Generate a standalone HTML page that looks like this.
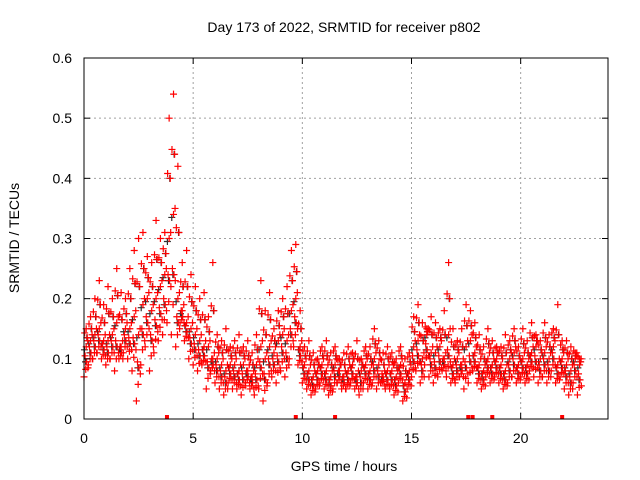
<!DOCTYPE html>
<html><head><meta charset="utf-8"><style>
body{margin:0;background:#fff}
svg{display:block}
text{font-family:"Liberation Sans",sans-serif;font-size:14px;fill:#000}
</style></head><body>
<svg id="chart" width="640" height="480">
<text x="344" y="32" text-anchor="middle">Day 173 of 2022, SRMTID for receiver p802</text>
<text transform="translate(19,238) rotate(-90)" text-anchor="middle">SRMTID / TECUs</text>
<text x="344" y="471" text-anchor="middle">GPS time / hours</text>
<g id="grid"></g><g id="marks"></g><g id="axes"></g>
</svg>
<script>
const yTicks=[0,0.1,0.2,0.3,0.4,0.5,0.6];
const yTickLabels=["0","0.1","0.2","0.3","0.4","0.5","0.6"];
const xTicks=[0,5,10,15,20];
const xTickLabels=["0","5","10","15","20"];
const lowVals=[.07,.09,.1,.11,.1, .09,.1,.08,.1,.11, .1,.08,.03,.09,.12, .08,.11,.13,.14,.16, .14,.12,.16,.13,.1, .09,.08,.09,.05,.08, .06,.05,.04,.06,.05, .05,.04,.06,.05,.04, .05,.03,.06,.07,.06, .08,.07,.1,.12,.09, .06,.05,.04,.05,.06, .05,.04,.05,.06,.05, .05,.06,.05,.04,.06, .05,.06,.05,.06,.05, .05,.04,.06,.03,.05, .07,.08,.06,.09,.07, .06,.07,.08,.07,.06, .06,.07,.05,.06,.08, .06,.05,.07,.06,.07, .06,.05,.06,.07,.06, .07,.06,.08,.07,.06, .07,.06,.08,.06,.07, .05,.04,.06,.04];
const midVals=[.12,.13,.14,.15,.13, .13,.14,.16,.12,.15, .15,.17,.14,.19,.2, .18,.2,.22,.24,.3, .34,.2,.18,.16,.15, .14,.13,.12,.12,.1, .1,.09,.08,.09,.09, .08,.09,.08,.07,.09, .12,.1,.12,.11,.13, .14,.13,.18,.2,.12, .09,.08,.07,.08,.09, .08,.07,.09,.08,.07, .08,.09,.07,.08,.09, .08,.1,.09,.07,.08, .08,.07,.09,.06,.08, .12,.13,.1,.14,.11, .11,.12,.1,.14,.09, .1,.09,.12,.13,.11, .09,.08,.1,.09,.1, .09,.08,.1,.11,.09, .1,.09,.11,.12,.1, .11,.1,.12,.09,.1, .09,.08,.1,.09];
const highVals=[.15,.17,.2,.23,.19, .22,.2,.25,.21,.2, .25,.28,.3,.31,.27, .26,.33,.3,.31,.5, .54,.42,.26,.28,.24, .22,.2,.21,.17,.26, .14,.13,.15,.12,.13, .14,.12,.13,.11,.14, .23,.18,.21,.15,.18, .2,.22,.28,.29,.18, .12,.13,.11,.1,.12, .13,.11,.12,.1,.11, .12,.11,.13,.1,.12, .12,.15,.13,.11,.12, .11,.1,.12,.1,.11, .17,.19,.16,.15,.17, .16,.15,.18,.26,.15, .13,.15,.19,.18,.16, .14,.12,.15,.13,.12, .12,.14,.13,.15,.12, .15,.13,.16,.14,.13, .16,.14,.15,.19,.13, .13,.12,.11,.1];
const zeroHours=[3.8,9.7,11.5,17.6,17.8,18.7,21.9];
const X0=84,X1=608,Y0=419,Y1=58;
const xs=h=>X0+h*(X1-X0)/24;
const ys=v=>Y0-v*(Y0-Y1)/0.6;
const NS="http://www.w3.org/2000/svg";
function mk(tag,attrs,parent){const e=document.createElementNS(NS,tag);for(const k in attrs)e.setAttribute(k,attrs[k]);parent.appendChild(e);return e;}
const grid=document.getElementById('grid'),axes=document.getElementById('axes'),marks=document.getElementById('marks');
yTicks.forEach((v,i)=>{
 if(v>0&&v<0.6){const l=mk('line',{x1:X0,x2:X1,y1:ys(v),y2:ys(v),stroke:'#a0a0a0','stroke-dasharray':'2,3'},grid);
 
 }
 mk('line',{x1:X0,x2:X0+6,y1:ys(v),y2:ys(v),stroke:'#000'},axes);
 mk('line',{x1:X1,x2:X1-6,y1:ys(v),y2:ys(v),stroke:'#000'},axes);
 const t=mk('text',{x:X0-12,y:ys(v)+5,'text-anchor':'end'},axes);t.textContent=yTickLabels[i];
 
 
});
xTicks.forEach((h,i)=>{
 if(h>0){const l=mk('line',{x1:xs(h),x2:xs(h),y1:Y0,y2:Y1,stroke:'#a0a0a0','stroke-dasharray':'2,3'},grid);
 
 }
 mk('line',{x1:xs(h),x2:xs(h),y1:Y0,y2:Y0-6,stroke:'#000'},axes);
 mk('line',{x1:xs(h),x2:xs(h),y1:Y1,y2:Y1+6,stroke:'#000'},axes);
 const t=mk('text',{x:xs(h),y:Y0+24,'text-anchor':'middle'},axes);t.textContent=xTickLabels[i];
 
 
});
const frame=mk('rect',{x:X0,y:Y1,width:X1-X0,height:Y0-Y1,fill:'none',stroke:'#000'},axes);


function plus(h,v,color,name){
 const x=xs(h),y=ys(v);
 const p=mk('path',{d:`M${x-3.5},${y}h7M${x},${y-3.5}v7`,stroke:color,'stroke-width':1.2,fill:'none'},marks);
 
 
}
lowVals.forEach((lo,i)=>{
 const h=i*0.2,mid=midVals[i],hi=highVals[i];
 plus(h+0.07,(lo+mid)/2,'#303030','black-point');
 plus(h+0.13,(mid+hi)/2,'#303030','black-point');
 plus(h+0.02,mid-0.005,'#303030','black-point');
});
lowVals.forEach((lo,i)=>{
 const h=i*0.2,mid=midVals[i],hi=highVals[i];
 plus(h,lo,'#ff0000','red-point');
 plus(h+0.05,(lo+mid)/2+0.01,'#ff0000','red-point');
 plus(h+0.1,mid,'#ff0000','red-point');
 plus(h+0.15,(mid+hi)/2,'#ff0000','red-point');
 plus(h+0.1,hi,'#ff0000','red-point');
 plus(h+0.18,(lo+mid)/2-0.01,'#ff0000','red-point');
 plus(h+0.03,(mid+hi)/2+0.008,'#ff0000','red-point');
 plus(h+0.12,(lo+mid)/2,'#ff0000','red-point');
 plus(h+0.17,mid+0.01,'#ff0000','red-point');
 plus(h+0.08,(lo*3+mid)/4,'#ff0000','red-point');
});
zeroHours.forEach(h=>{
 const r=mk('rect',{x:xs(h)-2,y:ys(0)-4,width:4,height:4,fill:'#ff0000'},marks);
 
 
});
</script>
</body></html>
